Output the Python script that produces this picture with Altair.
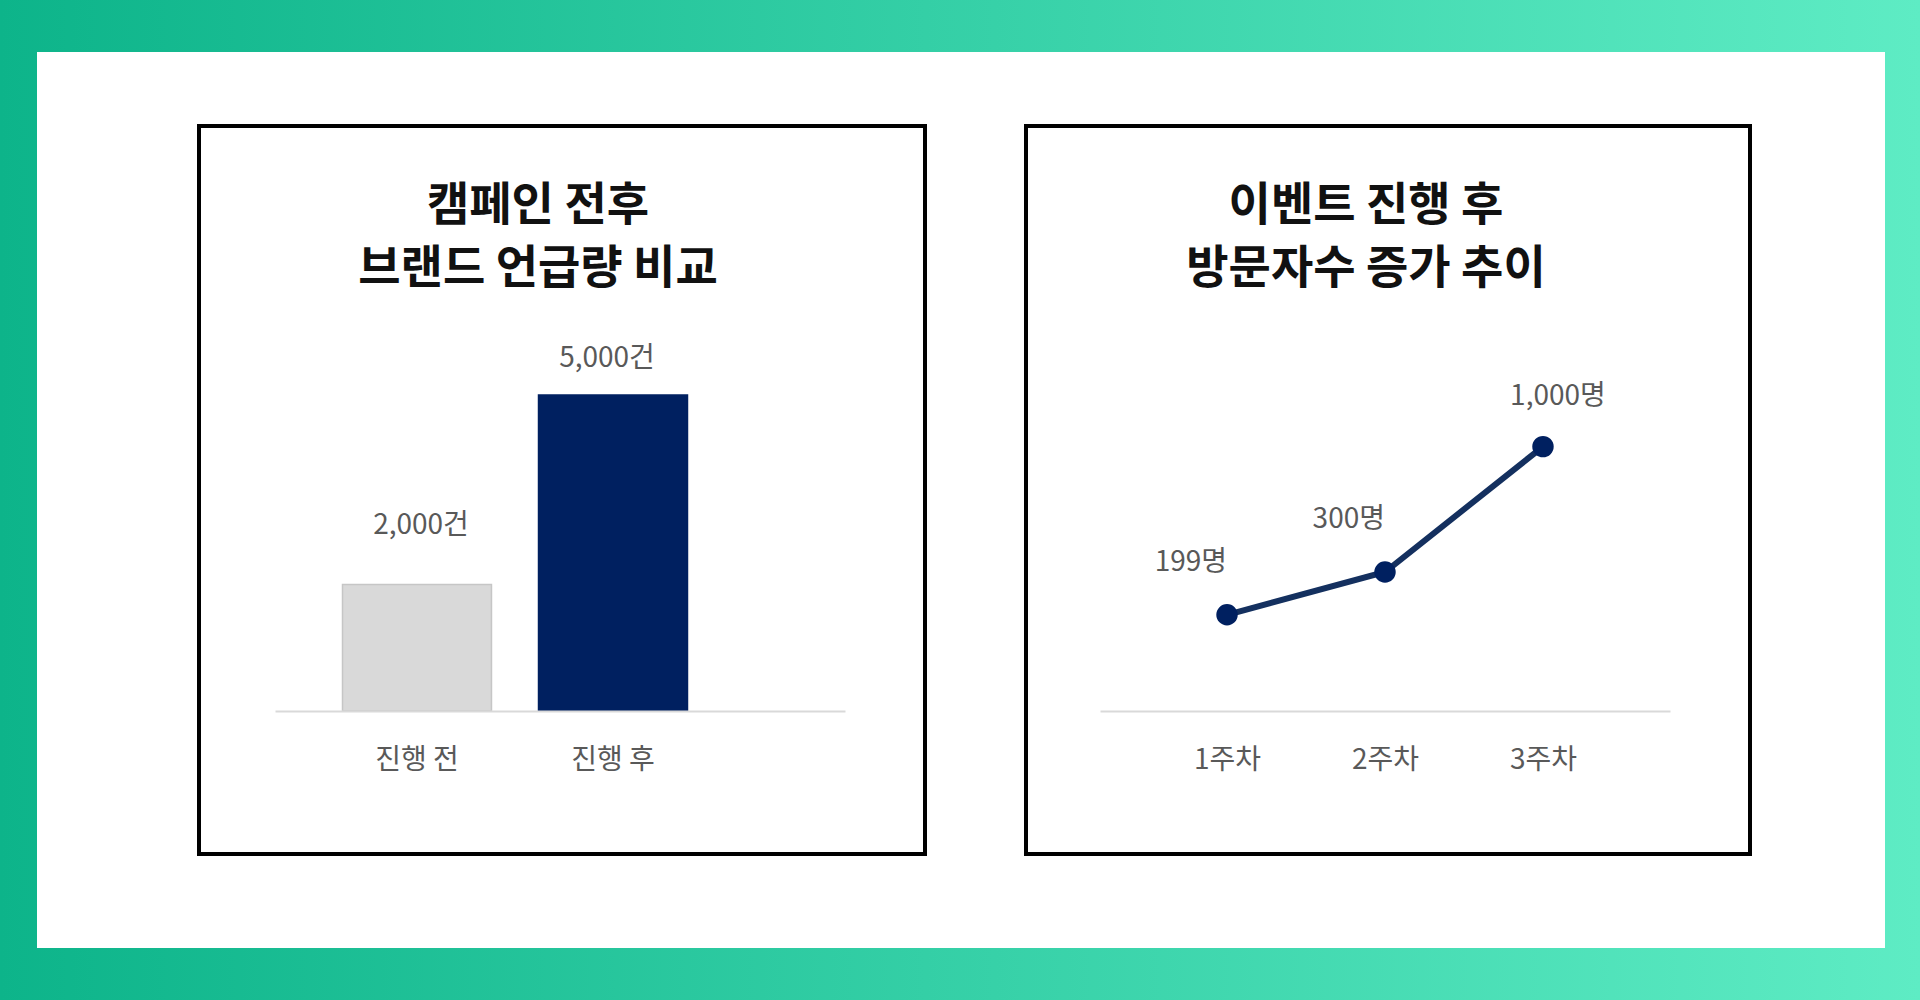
import altair as alt
import pandas as pd

# ---------------- data ----------------
bar_categories = ["진행 전", "진행 후"]
bar_values = [2000, 5000]
bar_labels = ["2,000건", "5,000건"]

weeks = ["1주차", "2주차", "3주차"]
visitors = [199, 300, 1000]
visitor_labels = ["199명", "300명", "1,000명"]

title_left = ["캠페인 전후", "브랜드 언급량 비교"]
title_right = ["이벤트 진행 후", "방문자수 증가 추이"]

# ---------------- style ----------------
W, H = 1920, 1000
FONT = "Noto Sans CJK KR"
LABEL_COLOR = "#595959"
NAVY = "#002060"
AXIS_Y = 711

bar_df = pd.DataFrame({"category": bar_categories, "value": bar_values, "label": bar_labels})
line_df = pd.DataFrame({"week": weeks, "visitors": visitors, "label": visitor_labels})
one = alt.Data(values=[{"k": 1}])

# ---------------- decorations ----------------
background = alt.Chart(one).mark_rect(
    fill=alt.LinearGradient(
        gradient="linear",
        stops=[alt.GradientStop(color="#0db48a", offset=0),
               alt.GradientStop(color="#5eecc4", offset=1)],
        x1=0, x2=1, y1=0, y2=0),
).encode(x=alt.value(0), x2=alt.value(W), y=alt.value(0), y2=alt.value(H))

card = alt.Chart(one).mark_rect(fill="#ffffff").encode(
    x=alt.value(37), x2=alt.value(1885), y=alt.value(52), y2=alt.value(948))

frame_left = alt.Chart(one).mark_rect(filled=False, stroke="#000000", strokeWidth=4).encode(
    x=alt.value(199), x2=alt.value(925), y=alt.value(126), y2=alt.value(854))
frame_right = alt.Chart(one).mark_rect(filled=False, stroke="#000000", strokeWidth=4).encode(
    x=alt.value(1026), x2=alt.value(1750), y=alt.value(126), y2=alt.value(854))

title_style = dict(font=FONT, fontSize=46, fontWeight="bold", color="#111111",
                   align="center", baseline="alphabetic", lineHeight=63)
title_l = alt.Chart(one).mark_text(**title_style).encode(
    x=alt.value(538), y=alt.value(220), text=alt.value(title_left))
title_r = alt.Chart(one).mark_text(**title_style).encode(
    x=alt.value(1366), y=alt.value(220), text=alt.value(title_right))

axis_style = dict(orient="bottom", offset=-(H - AXIS_Y), title=None, zindex=2,
                  domainColor="#d9d9d9", domainWidth=2, ticks=False, tickSize=0,
                  labelAngle=0, labelFont=FONT, labelFontSize=28, labelColor=LABEL_COLOR,
                  labelPadding=57, labelBaseline="alphabetic", grid=False)

# ---------------- bar chart ----------------
x_bar = alt.X("category:N", sort=bar_categories,
              scale=alt.Scale(range=[275, 845], paddingInner=0.24, paddingOuter=0.574, align=0.3),
              axis=alt.Axis(**axis_style))
y_bar = alt.Y("value:Q", scale=alt.Scale(domain=[0, 5000], range=[AXIS_Y, 395], nice=False),
              axis=None)

bars = alt.Chart(bar_df).mark_bar(strokeWidth=1.5).encode(
    x=x_bar, y=y_bar,
    fill=alt.Fill("category:N", scale=alt.Scale(domain=bar_categories, range=["#d9d9d9", NAVY]),
                  legend=None),
    stroke=alt.Stroke("category:N", scale=alt.Scale(domain=bar_categories, range=["#c6c6c6", NAVY]),
                      legend=None),
)
text_style = dict(font=FONT, fontSize=28, color=LABEL_COLOR, baseline="alphabetic", align="center")
bar_text_a = alt.Chart(bar_df).transform_filter(
    alt.datum.category == bar_categories[0]).mark_text(dy=-51, dx=4, **text_style).encode(
    x=x_bar, y=y_bar, text="label:N")
bar_text_b = alt.Chart(bar_df).transform_filter(
    alt.datum.category == bar_categories[1]).mark_text(dy=-28, dx=-6, **text_style).encode(
    x=x_bar, y=y_bar, text="label:N")
bar_layer = alt.layer(bars, bar_text_a, bar_text_b)

# ---------------- line chart ----------------
x_line = alt.X("week:N", sort=weeks,
               scale=alt.Scale(type="point", range=[1100, 1670], padding=0.804),
               axis=alt.Axis(**axis_style))
y_line = alt.Y("visitors:Q",
               scale=alt.Scale(type="log", domain=[79, 72800], range=[AXIS_Y, 0], nice=False),
               axis=None)

line = alt.Chart(line_df).mark_line(color="#14305f", strokeWidth=6).encode(x=x_line, y=y_line)
points = alt.Chart(line_df).mark_circle(size=460, color=NAVY, opacity=1).encode(x=x_line, y=y_line)
line_text_a = alt.Chart(line_df).transform_filter(alt.datum.visitors < 1000).mark_text(
    dy=-44, dx=0, font=FONT, fontSize=28, color=LABEL_COLOR, baseline="alphabetic", align="right"
).encode(x=x_line, y=y_line, text="label:N")
line_text_b = alt.Chart(line_df).transform_filter(alt.datum.visitors >= 1000).mark_text(
    dy=-42, dx=15, font=FONT, fontSize=28, color=LABEL_COLOR, baseline="alphabetic", align="center"
).encode(x=x_line, y=y_line, text="label:N")
line_layer = alt.layer(line, points, line_text_a, line_text_b)

chart = alt.layer(
    background, card, frame_left, frame_right, title_l, title_r, bar_layer, line_layer
).resolve_scale(
    x="independent", y="independent", fill="independent", stroke="independent"
).properties(
    width=W, height=H, padding=0, autosize=alt.AutoSizeParams(type="none")
).configure_view(strokeWidth=0)

chart.save("out.html", embed_options={"renderer": "svg", "actions": False})
